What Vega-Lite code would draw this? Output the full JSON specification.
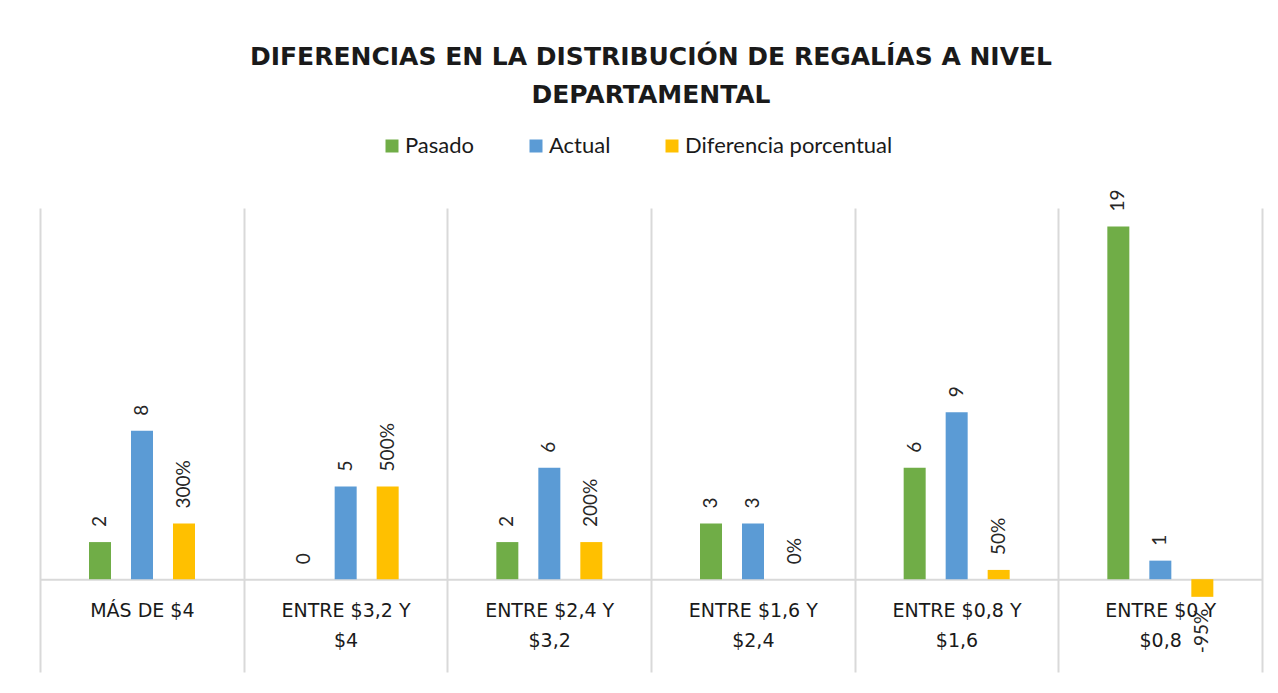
{
  "$schema": "https://vega.github.io/schema/vega-lite/v6.json",
  "width": 1222,
  "height": 464,
  "autosize": {"type": "none"},
  "padding": {"left": 40, "top": 208, "right": 16, "bottom": 21},
  "background": "white",
  "title": {
    "text": ["DIFERENCIAS EN LA DISTRIBUCIÓN DE REGALÍAS A NIVEL", "DEPARTAMENTAL"],
    "font": "DejaVu Sans",
    "fontSize": 25,
    "fontWeight": "bold",
    "color": "#1a1a1a",
    "lineHeight": 38,
    "anchor": "middle",
    "frame": "group",
    "offset": 27
  },
  "data": {
    "values": [
      {"categoria": "MÁS DE $4", "serie": "Pasado", "valor": 2},
      {"categoria": "MÁS DE $4", "serie": "Actual", "valor": 8},
      {"categoria": "MÁS DE $4", "serie": "Diferencia porcentual", "valor": 3},
      {"categoria": "ENTRE $3,2 Y $4", "serie": "Pasado", "valor": 0},
      {"categoria": "ENTRE $3,2 Y $4", "serie": "Actual", "valor": 5},
      {"categoria": "ENTRE $3,2 Y $4", "serie": "Diferencia porcentual", "valor": 5},
      {"categoria": "ENTRE $2,4 Y $3,2", "serie": "Pasado", "valor": 2},
      {"categoria": "ENTRE $2,4 Y $3,2", "serie": "Actual", "valor": 6},
      {"categoria": "ENTRE $2,4 Y $3,2", "serie": "Diferencia porcentual", "valor": 2},
      {"categoria": "ENTRE $1,6 Y $2,4", "serie": "Pasado", "valor": 3},
      {"categoria": "ENTRE $1,6 Y $2,4", "serie": "Actual", "valor": 3},
      {"categoria": "ENTRE $1,6 Y $2,4", "serie": "Diferencia porcentual", "valor": 0},
      {"categoria": "ENTRE $0,8 Y $1,6", "serie": "Pasado", "valor": 6},
      {"categoria": "ENTRE $0,8 Y $1,6", "serie": "Actual", "valor": 9},
      {"categoria": "ENTRE $0,8 Y $1,6", "serie": "Diferencia porcentual", "valor": 0.5},
      {"categoria": "ENTRE $0 Y $0,8", "serie": "Pasado", "valor": 19},
      {"categoria": "ENTRE $0 Y $0,8", "serie": "Actual", "valor": 1},
      {"categoria": "ENTRE $0 Y $0,8", "serie": "Diferencia porcentual", "valor": -0.95}
    ]
  },
  "encoding": {
    "x": {
      "field": "categoria",
      "type": "nominal",
      "sort": null,
      "scale": {"paddingInner": 0, "paddingOuter": 0},
      "axis": {
        "title": null,
        "orient": "bottom",
        "offset": -92.8,
        "domain": true,
        "domainColor": "#d9d9d9",
        "domainWidth": 2,
        "ticks": false,
        "grid": true,
        "gridColor": "#d9d9d9",
        "gridWidth": 2,
        "tickBand": "extent",
        "labelAngle": 0,
        "labelFont": "DejaVu Sans",
        "labelFontSize": 19,
        "labelColor": "#1a1a1a",
        "labelBaseline": "top",
        "labelPadding": 22,
        "labelLineHeight": 30,
        "labelLimit": 300,
        "labelExpr": "split(replace(datum.label, ' Y ', ' Y|'), '|')"
      }
    },
    "xOffset": {
      "field": "serie",
      "type": "nominal",
      "sort": ["Pasado", "Actual", "Diferencia porcentual"],
      "scale": {"range": [49, 155], "paddingInner": 0.476, "paddingOuter": 0}
    },
    "y": {
      "field": "valor",
      "type": "quantitative",
      "scale": {"domain": [-5, 20], "nice": false, "zero": true},
      "axis": null
    }
  },
  "layer": [
    {
      "mark": {"type": "bar"},
      "encoding": {
        "color": {
          "field": "serie",
          "type": "nominal",
          "sort": ["Pasado", "Actual", "Diferencia porcentual"],
          "scale": {
            "domain": ["Pasado", "Actual", "Diferencia porcentual"],
            "range": ["#70AD47", "#5B9BD5", "#FFC000"]
          },
          "legend": {
            "title": null,
            "orient": "none",
            "direction": "horizontal",
            "legendX": 341,
            "legendY": -73,
            "symbolType": "square",
            "symbolSize": 169,
            "symbolStrokeWidth": 0,
            "labelFont": "Lato",
            "labelFontSize": 22,
            "labelColor": "#1a1a1a",
            "labelOffset": 2,
            "columnPadding": 50,
            "labelLimit": 400
          }
        }
      }
    },
    {
      "transform": [{"filter": "datum.serie != 'Diferencia porcentual'"}],
      "mark": {
        "type": "text",
        "angle": 270,
        "align": "left",
        "baseline": "middle",
        "dx": 15,
        "font": "Lato",
        "fontSize": 19,
        "color": "#262626"
      },
      "encoding": {
        "text": {"field": "valor", "type": "quantitative", "format": "d"}
      }
    },
    {
      "transform": [{"filter": "datum.serie == 'Diferencia porcentual'"}],
      "mark": {
        "type": "text",
        "angle": 270,
        "align": {"expr": "datum.valor < 0 ? 'right' : 'left'"},
        "baseline": "middle",
        "dx": {"expr": "datum.valor < 0 ? -12 : 15"},
        "font": "Lato",
        "fontSize": 19,
        "color": "#262626"
      },
      "encoding": {
        "text": {"field": "valor", "type": "quantitative", "format": ".0%"}
      }
    }
  ],
  "config": {
    "view": {"stroke": null},
    "locale": {
      "number": {
        "decimal": ",",
        "thousands": ".",
        "grouping": [3],
        "currency": ["$", ""],
        "minus": "-"
      }
    }
  }
}
